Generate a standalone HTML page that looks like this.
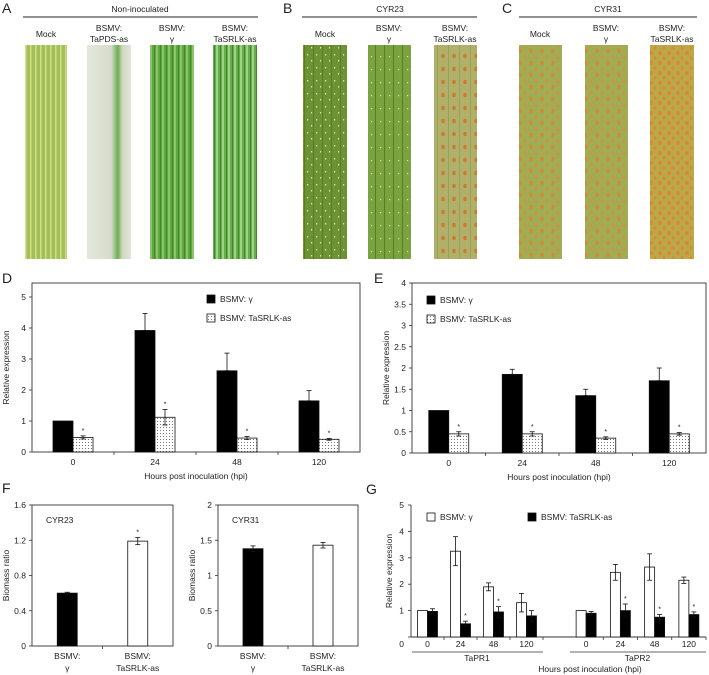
<!DOCTYPE html>
<html><head><meta charset="utf-8">
<style>
html,body{margin:0;padding:0;background:#fff;}
svg{display:block;font-family:"Liberation Sans",Arial,sans-serif;}
</style></head>
<body>
<svg id="fig" width="709" height="675" viewBox="0 0 709 675" xmlns="http://www.w3.org/2000/svg">
<defs>
<pattern id="dots" width="3" height="3" patternUnits="userSpaceOnUse"><rect width="3" height="3" fill="#fff"/><rect x="1" y="1" width="1" height="1" fill="#777"/></pattern>
<pattern id="stripesA" width="5" height="10" patternUnits="userSpaceOnUse"><rect width="5" height="10" fill="#a4c052"/><rect x="0" width="1.5" height="10" fill="#cfdc92"/></pattern>
<pattern id="stripesG" width="6" height="10" patternUnits="userSpaceOnUse"><rect width="6" height="10" fill="#5fa540"/><rect x="0" width="2" height="10" fill="#8cc46a"/><rect x="4" width="1" height="10" fill="#3e8a2c"/></pattern>
<pattern id="stripesS" width="6" height="10" patternUnits="userSpaceOnUse"><rect width="6" height="10" fill="#68ad4c"/><rect x="0" width="2" height="10" fill="#a2d084"/><rect x="4" width="1" height="10" fill="#3c8a2c"/></pattern>
<pattern id="speckB" width="9" height="13" patternUnits="userSpaceOnUse"><rect width="9" height="13" fill="#6d9233"/><rect x="1" y="2" width="1.2" height="1.5" fill="#dfe8a8"/><rect x="5" y="8" width="1.2" height="1.5" fill="#d8e4a0"/><rect x="7" width="1" height="13" fill="#587c28"/></pattern>
<pattern id="speckB2" width="9" height="13" patternUnits="userSpaceOnUse"><rect width="9" height="13" fill="#7aa23e"/><rect x="2" y="4" width="1.2" height="1.2" fill="#dde8a8"/><rect x="6" width="1" height="13" fill="#557e26"/></pattern>
<pattern id="rustB" width="11" height="13" patternUnits="userSpaceOnUse"><rect width="11" height="13" fill="#b0b06a"/><ellipse cx="3" cy="4" rx="1.8" ry="2.3" fill="#cc7c30"/><rect x="8" width="1" height="13" fill="#98a254"/></pattern>
<pattern id="rustC" width="11" height="12" patternUnits="userSpaceOnUse"><rect width="11" height="12" fill="#a2ac54"/><ellipse cx="3" cy="3" rx="1.7" ry="2.2" fill="#d28a34"/><ellipse cx="8" cy="9" rx="1.4" ry="1.8" fill="#d4903a"/></pattern>
<pattern id="rustC3" width="9" height="10" patternUnits="userSpaceOnUse"><rect width="9" height="10" fill="#bca84c"/><ellipse cx="3" cy="3" rx="1.9" ry="2.3" fill="#d88a2a"/><ellipse cx="7" cy="8" rx="1.5" ry="1.9" fill="#d68c2e"/></pattern>
<linearGradient id="pds" x1="0" x2="1"><stop offset="0" stop-color="#e4e8dc"/><stop offset="0.55" stop-color="#d6dccc"/><stop offset="0.7" stop-color="#6cae50"/><stop offset="0.8" stop-color="#cfd8c0"/><stop offset="1" stop-color="#e2e6da"/></linearGradient>
</defs>
<g id="photos"></g>
<g id="charts"></g>
</svg>
<script>
// ---------- Panel D data ----------
const dCategories = ["0","24","48","120"];
const dGamma = [1, 3.92, 2.62, 1.65];
const dGammaErr = [0, 0.55, 0.57, 0.33];
const dSRLK = [0.47, 1.12, 0.45, 0.41];
const dSRLKErr = [0.05, 0.25, 0.05, 0.03];
const dTicks = [0,1,2,3,4,5];
// ---------- Panel E data ----------
const eCategories = ["0","24","48","120"];
const eGamma = [1, 1.85, 1.35, 1.7];
const eGammaErr = [0, 0.12, 0.15, 0.3];
const eSRLK = [0.45, 0.45, 0.35, 0.45];
const eSRLKErr = [0.05, 0.05, 0.03, 0.03];
const eTicks = [0,0.5,1,1.5,2,2.5,3,3.5,4];
// ---------- Panel F data ----------
const fLabels = ["BSMV:|γ","BSMV:|TaSRLK-as"];
const f23Values = [0.6, 1.19];
const f23Err = [0.01, 0.04];
const f23Ticks = [0,0.4,0.8,1.2,1.6];
const f31Values = [1.38, 1.43];
const f31Err = [0.04, 0.04];
const f31Ticks = [0,0.5,1,1.5,2];
// ---------- Panel G data ----------
const gCategories = ["0","24","48","120"];
const gPR1Gamma = [1, 3.25, 1.9, 1.3];
const gPR1GammaErr = [0, 0.55, 0.15, 0.35];
const gPR1SRLK = [0.97, 0.5, 0.95, 0.8];
const gPR1SRLKErr = [0.1, 0.1, 0.2, 0.2];
const gPR2Gamma = [1, 2.45, 2.65, 2.15];
const gPR2GammaErr = [0, 0.3, 0.5, 0.12];
const gPR2SRLK = [0.9, 1, 0.75, 0.85];
const gPR2SRLKErr = [0.07, 0.25, 0.1, 0.1];
const gTicks = [0,1,2,3,4,5];

const NS="http://www.w3.org/2000/svg";
const charts=document.getElementById('charts');
function el(tag,attrs,parent){const e=document.createElementNS(NS,tag);for(const k in attrs)e.setAttribute(k,attrs[k]);(parent||charts).appendChild(e);return e;}
function txt(x,y,s,size,anchor,parent,extra){const t=el('text',Object.assign({x:x,y:y,'font-size':size,'text-anchor':anchor||'middle',fill:'#222'},extra||{}),parent);t.textContent=s;return t;}
function bar(g,x,w,y0,y1,fill){const b=el('rect',{x:x,y:y1,width:w,height:y0-y1,fill:fill,stroke:'#111','stroke-width':0.8},g);return b;}
function errBar(g,cx,yTop,yBot){if(Math.abs(yBot-yTop)<0.5)return;el('line',{x1:cx,x2:cx,y1:yTop,y2:yBot,stroke:'#111','stroke-width':0.8},g);el('line',{x1:cx-2.5,x2:cx+2.5,y1:yTop,y2:yTop,stroke:'#111','stroke-width':0.8},g);el('line',{x1:cx-2.5,x2:cx+2.5,y1:yBot,y2:yBot,stroke:'#111','stroke-width':0.8},g);}
function star(g,cx,y){txt(cx,y,'*',7,'middle',g);}

// ---------- leaf photos ----------
const photos=document.getElementById('photos');
const leaves=[[25,67,'url(#stripesA)'],[87,131,'url(#pds)'],[150,194,'url(#stripesG)'],[213,257,'url(#stripesS)'],
[303,347,'url(#speckB)'],[368,411,'url(#speckB2)'],[434,477,'url(#rustB)'],
[519,562,'url(#rustC)'],[585,628,'url(#rustC)'],[650,694,'url(#rustC3)']];
const leafNames=['leaf-a-mock','leaf-a-tapds','leaf-a-gamma','leaf-a-tasrlk','leaf-b-mock','leaf-b-gamma','leaf-b-tasrlk','leaf-c-mock','leaf-c-gamma','leaf-c-tasrlk'];
leaves.forEach((l,i)=>{const r=el('rect',{x:l[0],y:45,width:l[1]-l[0],height:214,fill:l[2]},photos);});
[['A',2,13],['B',283,13],['C',502,13],['D',2,283],['E',374,283],['F',2,493],['G',366,494]].forEach(p=>{const t=txt(p[1],p[2],p[0],14,'start',charts);});
[[23,258,140,'Non-inoculated'],[302,477,390,'CYR23'],[519,697,608,'CYR31']].forEach(h=>{el('line',{x1:h[0],x2:h[1],y1:17,y2:17,stroke:'#222','stroke-width':0.9});const t=txt(h[2],12,h[3],8.5,'middle');});
const colLabels=[[46,'Mock'],[109,'BSMV:|TaPDS-as'],[172,'BSMV:|γ'],[235,'BSMV:|TaSRLK-as'],[325,'Mock'],[389,'BSMV:|γ'],[455,'BSMV:|TaSRLK-as'],[540,'Mock'],[606,'BSMV:|γ'],[672,'BSMV:|TaSRLK-as']];
colLabels.forEach(c=>{const parts=c[1].split('|');if(parts.length===1){txt(c[0],37,parts[0],8.5);}else{txt(c[0],31,parts[0],8.5);txt(c[0],42,parts[1],8.5);}});

// ---------- grouped expression chart (D,E) ----------
function exprChart(name,left,right,top,y0,yMax,yMaxPix,ticks,cats,s1,e1,s2,e2,legX,legY){
 const g=el('g',{});
 const yS=v=>y0-(v/yMax)*(y0-yMaxPix);
 el('rect',{x:left,y:top,width:right-left,height:y0-top,fill:'none',stroke:'#333','stroke-width':0.9},g);
 ticks.forEach(t=>{el('line',{x1:left-3,x2:left,y1:yS(t),y2:yS(t),stroke:'#333','stroke-width':0.8},g);txt(left-6,yS(t)+3,String(t),8.5,'end',g);});
 const step=(right-left)/cats.length;const bw=20;
 cats.forEach((c,i)=>{const cx=left+step*(i+0.5);
  if(i>0)el('line',{x1:left+step*i,x2:left+step*i,y1:y0,y2:y0+3,stroke:'#333','stroke-width':0.8},g);
  bar(g,cx-bw,bw,y0,yS(s1[i]),'#000');errBar(g,cx-bw/2,yS(s1[i]+e1[i]),yS(s1[i]));
  bar(g,cx,bw,y0,yS(s2[i]),'url(#dots)');errBar(g,cx+bw/2,yS(s2[i]+e2[i]),yS(s2[i]-e2[i]));
  star(g,cx+bw/2,yS(s2[i]+e2[i])-3);
  txt(cx,y0+13,c,8.5,'middle',g);});
 txt((left+right)/2,y0+27,'Hours post inoculation (hpi)',8.5,'middle',g);
 txt(0,0,'Relative expression',8.5,'middle',g,{transform:`translate(${left-23},${(top+y0)/2}) rotate(-90)`});
 el('rect',{x:legX,y:legY-4,width:8,height:8,fill:'#000',stroke:'#111','stroke-width':0.8},g);
 txt(legX+13,legY+3,'BSMV: γ',8.5,'start',g);
 el('rect',{x:legX,y:legY+15,width:8,height:8,fill:'url(#dots)',stroke:'#111','stroke-width':0.8},g);
 txt(legX+13,legY+22,'BSMV: TaSRLK-as',8.5,'start',g);
}
exprChart('chart-d',32,360,283,452,5,297,dTicks,dCategories,dGamma,dGammaErr,dSRLK,dSRLKErr,207,299);
exprChart('chart-e',412,706,283,453,4,283,eTicks,eCategories,eGamma,eGammaErr,eSRLK,eSRLKErr,427,300);

// ---------- biomass charts (F) ----------
function biomass(name,left,right,top,y0,yMax,ticks,vals,errs,title,stars){
 const g=el('g',{});
 const yS=v=>y0-(v/yMax)*(y0-top);
 el('rect',{x:left,y:top,width:right-left,height:y0-top,fill:'none',stroke:'#333','stroke-width':0.9},g);
 ticks.forEach(t=>{el('line',{x1:left-3,x2:left,y1:yS(t),y2:yS(t),stroke:'#333','stroke-width':0.8},g);txt(left-6,yS(t)+3,String(t),8.5,'end',g);});
 const step=(right-left)/vals.length;
 el('line',{x1:left+step,x2:left+step,y1:y0,y2:y0+3,stroke:'#333','stroke-width':0.8},g);
 vals.forEach((v,i)=>{const cx=left+step*(i+0.5);
  bar(g,cx-10,20,y0,yS(v),i===0?'#000':'#fff');errBar(g,cx,yS(v+errs[i]),yS(v-errs[i]));
  if(stars[i])star(g,cx,yS(v+errs[i])-3);
  const p=fLabels[i].split('|');txt(cx,y0+13,p[0],8.5,'middle',g);txt(cx,y0+25,p[1],8.5,'middle',g);});
 txt(left+14,top+18,title,8.5,'start',g);
 txt(0,0,'Biomass ratio',8.5,'middle',g,{transform:`translate(${left-23},${(top+y0)/2}) rotate(-90)`});
}
biomass('chart-f-cyr23',32,173,505,646,1.6,f23Ticks,f23Values,f23Err,'CYR23',[false,true]);
biomass('chart-f-cyr31',218,358,505,646,2,f31Ticks,f31Values,f31Err,'CYR31',[false,false]);

// ---------- panel G ----------
(function(){
 const g=el('g',{});
 const left=411,right=706,y0=637,top=505,yMax=5;
 const yS=v=>y0-(v/yMax)*(y0-top);
 el('line',{x1:left,x2:left,y1:top,y2:y0,stroke:'#333','stroke-width':0.9},g);
 el('line',{x1:left,x2:right,y1:y0,y2:y0,stroke:'#333','stroke-width':0.9},g);
 gTicks.forEach(t=>{el('line',{x1:left-3,x2:left,y1:yS(t),y2:yS(t),stroke:'#333','stroke-width':0.8},g);txt(left-7,t===0?y0+10:yS(t)+3,String(t),8.5,'end',g);});
 const groups=[[411,543,gPR1Gamma,gPR1GammaErr,gPR1SRLK,gPR1SRLKErr,'TaPR1',[false,true,true,false]],
               [569,706,gPR2Gamma,gPR2GammaErr,gPR2SRLK,gPR2SRLKErr,'TaPR2',[false,true,true,true]]];
 groups.forEach(gr=>{const step=(gr[1]-gr[0])/gCategories.length;
  gCategories.forEach((c,i)=>{const cx=gr[0]+step*(i+0.5);
   el('line',{x1:gr[0]+step*(i+1),x2:gr[0]+step*(i+1),y1:y0,y2:y0+3,stroke:'#333','stroke-width':0.8},g);
   bar(g,cx-10,10,y0,yS(gr[2][i]),'#fff');errBar(g,cx-5,yS(gr[2][i]+gr[3][i]),yS(gr[2][i]-gr[3][i]));
   bar(g,cx,10,y0,yS(gr[4][i]),'#000');errBar(g,cx+5,yS(gr[4][i]+gr[5][i]),yS(gr[4][i]-gr[5][i]));
   if(gr[7][i])star(g,cx+5,yS(gr[4][i]+gr[5][i])-3);
   txt(cx,y0+10,c,8.5,'middle',g);});
  el('line',{x1:gr[0]+1,x2:gr[1],y1:652,y2:652,stroke:'#333','stroke-width':0.8},g);
  txt((gr[0]+gr[1])/2,661,gr[6],8.5,'middle',g);});
 txt(590,672,'Hours post inoculation (hpi)',8.5,'middle',g);
 txt(0,0,'Relative expression',8.5,'middle',g,{transform:`translate(392,${(top+y0)/2}) rotate(-90)`});
 el('rect',{x:427,y:513,width:8,height:8,fill:'#fff',stroke:'#111','stroke-width':0.8},g);
 txt(440,520,'BSMV: γ',8.5,'start',g);
 el('rect',{x:528,y:513,width:8,height:8,fill:'#000',stroke:'#111','stroke-width':0.8},g);
 txt(541,520,'BSMV: TaSRLK-as',8.5,'start',g);
})();
</script>
</body></html>
